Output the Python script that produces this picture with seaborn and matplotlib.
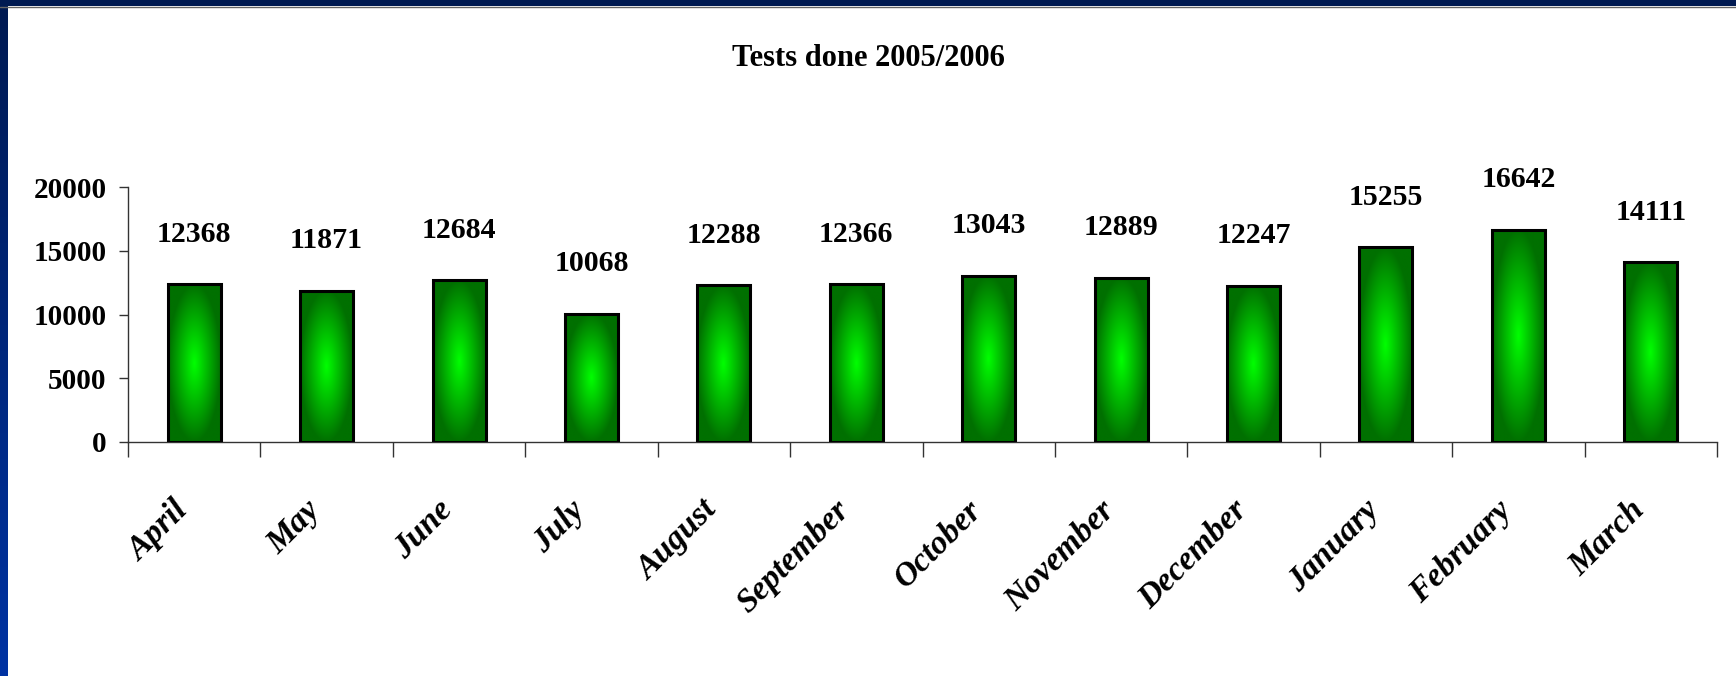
import numpy as np
import matplotlib
matplotlib.use("Agg")
import matplotlib.pyplot as plt
from matplotlib.patches import Rectangle
import seaborn as sns

# ========== data ==========
months = ["April", "May", "June", "July", "August", "September",
          "October", "November", "December", "January", "February", "March"]
tests = [12368, 11871, 12684, 10068, 12288, 12366,
         13043, 12889, 12247, 15255, 16642, 14111]
y_ticks = [0, 5000, 10000, 15000, 20000]
title = "Tests done 2005/2006"

sns.set_style("white")
plt.rcParams["font.family"] = ["Liberation Serif", "DejaVu Serif"]
plt.rcParams["font.weight"] = "bold"
plt.rcParams["text.color"] = "black"
plt.rcParams["xtick.color"] = "black"
plt.rcParams["ytick.color"] = "black"

W, H = 1736, 676
fig = plt.figure(figsize=(W / 100, H / 100), dpi=100)
fig.patch.set_facecolor("white")

# frame: dark navy strip at top, blue gradient strip on the left
fig.patches.append(Rectangle((0, 1 - 6 / H), 1, 6 / H, transform=fig.transFigure,
                             facecolor="#001a52", edgecolor="none", zorder=0))
fig.add_artist(plt.Line2D([0, 1], [1 - 6.5 / H, 1 - 6.5 / H], transform=fig.transFigure,
                          color="#666666", lw=1))
ax_bg = fig.add_axes([0, 0, 8 / W, 1])
grad = np.linspace(0, 1, 256).reshape(-1, 1)
top_c = np.array([0x00, 0x1a, 0x52]) / 255
bot_c = np.array([0x00, 0x33, 0xa3]) / 255
strip = top_c[None, None, :] * (1 - grad[:, :, None]) + bot_c[None, None, :] * grad[:, :, None]
ax_bg.imshow(strip, aspect="auto", extent=[0, 1, 0, 1])
ax_bg.axis("off")

# ========== chart ==========
ax = fig.add_axes([128 / W, 1 - 442 / H, (1717 - 128) / W, (442 - 187) / H])
sns.barplot(x=months, y=tests, ax=ax, width=0.4, color="#00c000",
            edgecolor="black", linewidth=2.2, saturation=1)

# green gradient inside each bar (bright centre, dark edges)
ny, nx = 200, 60
u = np.linspace(-1, 1, nx)[None, :]
v = np.linspace(-1, 1, ny)[:, None]
t = np.clip(np.sqrt(u ** 2 + v ** 2), 0, 1) ** 1.0
bright = np.array([0, 255, 0]) / 255
dark = np.array([0, 112, 0]) / 255
img = bright[None, None, :] * (1 - t[:, :, None]) + dark[None, None, :] * t[:, :, None]
for p in ax.patches:
    x0, y0 = p.get_x(), p.get_y()
    w, h = p.get_width(), p.get_height()
    p.set_facecolor("none")
    p.set_zorder(3)
    im = ax.imshow(img, extent=[x0, x0 + w, y0, y0 + h], aspect="auto",
                   origin="upper", zorder=2)
    im.set_clip_path(p)

for i, val in enumerate(tests):
    ax.annotate(f"{val}", (i, val), xytext=(0, 36), textcoords="offset points",
                ha="center", va="center", fontsize=21.5, fontweight="bold",
                color="black")

ax.set_xlim(-0.5, len(months) - 0.5)
ax.set_ylim(0, 20000)
ax.set_yticks(y_ticks)
ax.set_yticklabels([str(y) for y in y_ticks], fontsize=21, fontweight="bold")
ax.set_xticks(range(len(months)))
ax.set_xticklabels(months, rotation=45, ha="right", va="top",
                   fontsize=24, fontweight="bold", fontstyle="italic")
ax.set_xticks(np.arange(-0.5, len(months)), minor=True)
ax.tick_params(axis="x", which="major", length=0, pad=38)
ax.tick_params(axis="x", which="minor", length=11, width=1, color="#333333",
               direction="out", bottom=True)
ax.tick_params(axis="y", length=6.5, width=1, color="#333333", direction="out",
               left=True, pad=9)
ax.set_xlabel("")
ax.set_ylabel("")
for s in ["top", "right"]:
    ax.spines[s].set_visible(False)
for s in ["left", "bottom"]:
    ax.spines[s].set_color("#333333")
    ax.spines[s].set_linewidth(1)
ax.set_facecolor("white")

fig.text(0.5, 1 - 59 / H, title, ha="center", va="center",
         fontsize=22, fontweight="bold", color="black")

fig.savefig("out.png", dpi=100)
